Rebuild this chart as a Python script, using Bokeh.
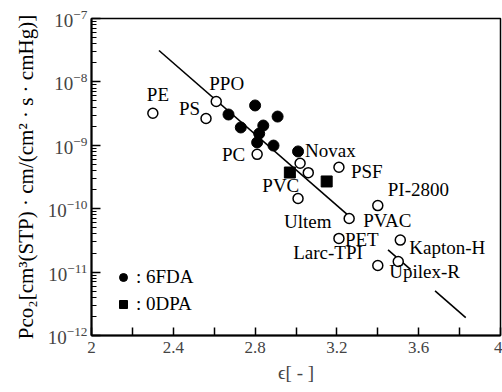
import math
from bokeh.plotting import figure
from bokeh.models import (ColumnDataSource, FixedTicker, LogTicker, Legend,
                          LegendItem, Range1d, Title)
from bokeh.core.properties import value
from bokeh.embed import file_html
from bokeh.resources import INLINE

# Conventional polymers (open circles): dielectric constant and CO2 permeability
other_names = ["PE", "PS", "PPO", "PC", "Novax", "PVC", "Ultem", "PSF",
               "PI-2800", "PVAC", "PET", "Kapton-H", "Upilex-R", "Larc-TPI"]
other_eps = [2.30, 2.56, 2.61, 2.81, 3.02, 3.06, 3.01, 3.21,
             3.40, 3.26, 3.21, 3.51, 3.50, 3.40]
other_p = [3.2e-9, 2.65e-9, 4.9e-9, 7.2e-10, 5.2e-10, 3.7e-10, 1.45e-10, 4.5e-10,
           1.12e-10, 7.0e-11, 3.4e-11, 3.2e-11, 1.47e-11, 1.27e-11]

# 6FDA-based polyimides (filled circles)
fda_eps = [2.67, 2.80, 2.91, 2.73, 2.84, 2.82, 2.81, 2.89, 3.01]
fda_p = [3.06e-9, 4.25e-9, 2.84e-9, 1.91e-9, 2.05e-9, 1.53e-9, 1.11e-9, 9.9e-10, 8.0e-10]

# ODPA-based polyimides (filled squares)
odpa_eps = [2.97, 3.15]
odpa_p = [3.72e-10, 2.69e-10]

# Correlation line: end points, and the stretches where it is drawn
fit_eps = [2.33, 3.83]
fit_p = [3.13e-8, 1.92e-12]
fit_pieces = [(2.33, 3.25), (3.45, 3.56), (3.68, 3.83)]

x_ticks = [2.0, 2.4, 2.8, 3.2, 3.6, 4.0]
x_minor = [2.2, 2.6, 3.0, 3.4, 3.8]

y_title = "Pco₂[cm³(STP) · cm/(cm² · s · cmHg)]"

# label placement for each named polymer: (dx, dy) in pixels and alignment
label_layout = {
    "PE": (-6, -19, "left"), "PS": (-6, -10, "right"), "PPO": (-7, -18, "left"),
    "PC": (-12, 0, "right"), "Novax": (5, -13, "left"), "PVC": (-9, 13, "right"),
    "Ultem": (-14, 23, "left"), "PSF": (12, 4, "left"), "PI-2800": (10, -16, "left"),
    "PVAC": (14, 2, "left"), "PET": (6, 1, "left"), "Kapton-H": (9, 7, "left"),
    "Upilex-R": (-9, 10, "left"), "Larc-TPI": (-15, -13, "right"),
}

SERIF = "Liberation Serif"

p = figure(width=502, height=392, output_backend="svg", toolbar_location=None,
           y_axis_type="log", x_range=Range1d(2, 4), y_range=Range1d(1e-12, 1e-7),
           min_border_left=91, min_border_right=2, min_border_top=18,
           min_border_bottom=57)
p.background_fill_color = "white"
p.border_fill_color = "white"
p.outline_line_color = "black"
p.outline_line_width = 1.5
p.xgrid.visible = False
p.ygrid.visible = False

# correlation line, interrupted behind the labels
log_a = math.log10(fit_p[0])
log_b = math.log10(fit_p[1])
slope = (log_b - log_a) / (fit_eps[1] - fit_eps[0])
xs, ys = [], []
for e0, e1 in fit_pieces:
    xs.append([e0, e1])
    ys.append([10 ** (log_a + slope * (e0 - fit_eps[0])),
               10 ** (log_a + slope * (e1 - fit_eps[0]))])
p.multi_line(xs, ys, line_color="black", line_width=1.6)

r_other = p.scatter(other_eps, other_p, marker="circle", size=10,
                    fill_color="white", line_color="black", line_width=1.5)
r_fda = p.scatter(fda_eps, fda_p, marker="circle", size=11,
                  fill_color="black", line_color="black")
r_odpa = p.scatter(odpa_eps, odpa_p, marker="square", size=11,
                   fill_color="black", line_color="black")

lab = ColumnDataSource(dict(
    x=other_eps, y=other_p, text=other_names,
    dx=[label_layout[n][0] for n in other_names],
    dy=[label_layout[n][1] for n in other_names],
    align=[label_layout[n][2] for n in other_names],
))
p.text(x="x", y="y", text="text", x_offset="dx", y_offset="dy", source=lab,
       text_align="align", text_baseline="middle", text_color="black",
       text_font=value(SERIF), text_font_size="19px")

legend = Legend(items=[LegendItem(label=": 6FDA", renderers=[r_fda]),
                       LegendItem(label=": 0DPA", renderers=[r_odpa])],
                location=(22, 20), orientation="vertical",
                border_line_alpha=0, background_fill_alpha=0,
                padding=0, margin=0, spacing=5, glyph_width=20, glyph_height=22,
                label_standoff=3, label_text_font=SERIF,
                label_text_font_size="19px", label_text_color="black")
p.add_layout(legend)

# x axis
xa = p.xaxis[0]
xa.ticker = FixedTicker(ticks=x_ticks, minor_ticks=x_minor)
xa.axis_label = "ϵ[ - ]"
xa.axis_label_text_font = SERIF
xa.axis_label_text_font_style = "normal"
xa.axis_label_text_font_size = "19px"
xa.axis_label_standoff = 6
xa.major_label_text_font = SERIF
xa.major_label_text_font_size = "17px"
xa.major_label_standoff = 6
xa.axis_line_width = 2
xa.major_tick_in = 8
xa.major_tick_out = 0
xa.minor_tick_in = 8
xa.minor_tick_out = 0
xa.major_tick_line_width = 1.5
xa.minor_tick_line_width = 1.5

# y axis
ya = p.yaxis[0]
ya.ticker = LogTicker(desired_num_ticks=6, num_minor_ticks=10)
ya.major_label_text_font = SERIF
ya.major_label_text_font_size = "19px"
ya.major_label_standoff = 4
ya.axis_line_width = 2
ya.major_tick_in = 9
ya.major_tick_out = 0
ya.minor_tick_in = 5
ya.minor_tick_out = 0
ya.major_tick_line_width = 1.5

# y axis title, outside the tick labels, shifted a little downwards
p.add_layout(Title(text=y_title, align="center", offset=-14, standoff=14,
                   text_font=SERIF, text_font_style="normal",
                   text_font_size="21px", text_color="black"), "left")

open("out.html", "w").write(file_html(p, INLINE))
